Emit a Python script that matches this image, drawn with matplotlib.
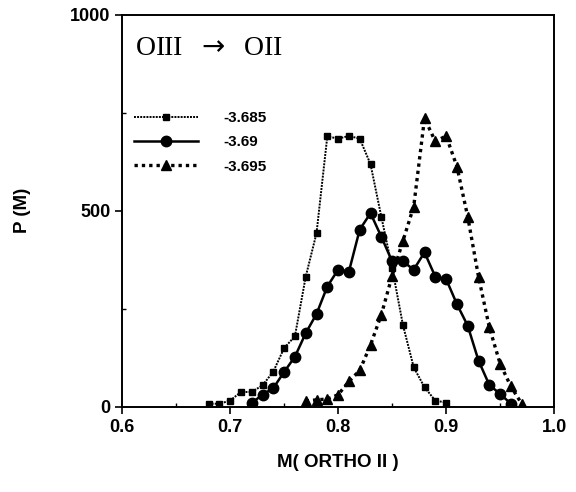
import matplotlib
matplotlib.use("Agg")
import matplotlib.pyplot as plt
from matplotlib.ticker import MultipleLocator

# P(M) distributions for three field values
m_a = [0.68, 0.69, 0.70, 0.71, 0.72, 0.73, 0.74, 0.75, 0.76, 0.77, 0.78, 0.79,
       0.80, 0.81, 0.82, 0.83, 0.84, 0.85, 0.86, 0.87, 0.88, 0.89, 0.90]
p_a = [8, 8, 16, 38, 38, 55, 90, 150, 180, 332, 443, 690,
       684, 691, 684, 619, 485, 355, 209, 101, 50, 16, 11]

m_b = [0.72, 0.73, 0.74, 0.75, 0.76, 0.77, 0.78, 0.79, 0.80, 0.81, 0.82, 0.83,
       0.84, 0.85, 0.86, 0.87, 0.88, 0.89, 0.90, 0.91, 0.92, 0.93, 0.94, 0.95, 0.96]
p_b = [10, 31, 48, 89, 128, 188, 237, 307, 350, 345, 452, 494,
       434, 371, 371, 350, 394, 332, 326, 262, 207, 118, 56, 33, 8]

m_c = [0.77, 0.78, 0.79, 0.80, 0.81, 0.82, 0.83, 0.84, 0.85, 0.86, 0.87,
       0.88, 0.89, 0.90, 0.91, 0.92, 0.93, 0.94, 0.95, 0.96, 0.97]
p_c = [15, 18, 20, 31, 65, 93, 158, 235, 334, 423, 511,
       736, 677, 691, 613, 485, 332, 203, 110, 52, 8]

labels = ["-3.685", "-3.69", "-3.695"]

plt.rcParams['font.family'] = ['Liberation Sans', 'DejaVu Sans']

fig = plt.figure(figsize=(5.76, 4.92), dpi=100)
ax = fig.add_axes([0.212, 0.173, 0.75, 0.797])

ax.plot(m_a, p_a, color="black", linestyle=(0, (1, 0.6)), linewidth=1.4,
        marker="s", markersize=5, label=labels[0])
ax.plot(m_b, p_b, color="black", linestyle="-", linewidth=1.8,
        marker="o", markersize=7.5, label=labels[1])
ax.plot(m_c, p_c, color="black", linestyle=(0, (1, 1.2)), linewidth=2.4,
        marker="^", markersize=7, label=labels[2])

ax.set_xlim(0.6, 1.0)
ax.set_ylim(0, 1000)
ax.set_xticks([0.6, 0.7, 0.8, 0.9, 1.0])
ax.set_xticklabels(["0.6", "0.7", "0.8", "0.9", "1.0"])
ax.set_yticks([0, 500, 1000])
ax.xaxis.set_minor_locator(MultipleLocator(0.05))
ax.yaxis.set_minor_locator(MultipleLocator(250))
ax.tick_params(which="major", direction="out", length=5, width=1.2,
               labelsize=13)
ax.tick_params(which="minor", direction="in", length=3, width=1)
for lab in ax.get_xticklabels() + ax.get_yticklabels():
    lab.set_fontweight("bold")
for sp in ax.spines.values():
    sp.set_linewidth(1.4)

ax.set_xlabel("M( ORTHO II )", fontsize=13.5, fontweight="bold", labelpad=13)
ax.set_ylabel("P (M)", fontsize=13.5, fontweight="bold", labelpad=28)

ax.text(0.03, 0.945, "OIII  $\\rightarrow$  OII", transform=ax.transAxes,
        fontsize=20, family="Liberation Serif", va="top", ha="left")

leg = ax.legend(loc="upper left", bbox_to_anchor=(-0.005, 0.79), frameon=False,
                handlelength=4.2, handletextpad=1.7, labelspacing=0.68,
                prop={"weight": "bold", "size": 11})

fig.savefig("out.png", dpi=100)
